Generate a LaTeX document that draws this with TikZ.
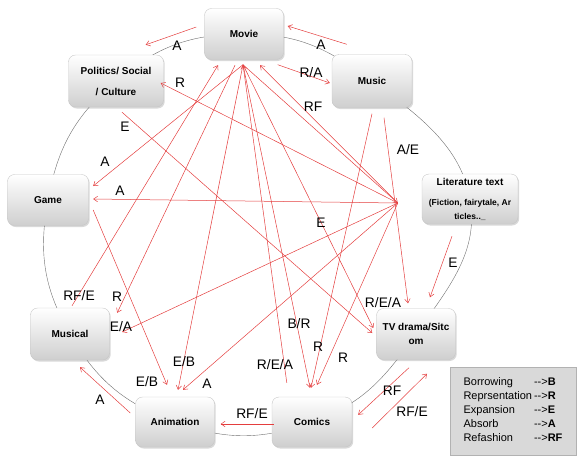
\documentclass[tikz,border=0pt]{standalone}
\usepackage{fontspec}
\setmainfont{Liberation Sans}
\usetikzlibrary{arrows.meta,positioning,calc,shadows,backgrounds}
\definecolor{linkred}{RGB}{228,62,62}
\definecolor{ringgray}{RGB}{110,110,110}
\definecolor{keygray}{RGB}{217,217,217}
\newcommand{\keyarrow}{-{}-{}>}

\begin{document}
\begin{tikzpicture}[x=1pt,y=-1pt,
    media/.style={draw=gray!45, rounded corners=7pt, top color=white, middle color=white!96!gray,
        bottom color=gray!38, minimum height=51pt, align=center,
        font=\fontsize{10}{14}\selectfont\bfseries,
        drop shadow={shadow xshift=1.2pt, shadow yshift=-1.5pt, opacity=0.3}},
    link/.style={linkred, line width=0.5pt, -{Straight Barb[length=4pt,width=5.5pt]}},
    tag/.style={font=\fontsize{13.8}{16}\selectfont, inner sep=0pt}]
    \useasboundingbox (0,0) rectangle (586,464);

    % media boxes round the ring
    \node[media, minimum width=79pt] (movie) at (244,34) {Movie};
    \node[media, minimum width=80pt, minimum height=53pt] (music) at (372,81) {Music};
    \node[media, minimum width=95pt, minimum height=52pt, font=\fontsize{10}{21}\selectfont\bfseries] (politics) at (116,81) {Politics/ Social\\/ Culture};
    \node[media, minimum width=81pt] (game) at (48,200) {Game};
    \node[media, minimum width=96pt, minimum height=50pt, font=\fontsize{8.5}{14}\selectfont\bfseries] (lit) at (470,199)
        {{\fontsize{10}{14}\selectfont Literature text}\\[6pt](Fiction, fairytale, Ar\\ticles..\_};
    \node[media, minimum width=79pt, minimum height=52pt] (musical) at (70,334) {Musical};
    \node[media, minimum width=79pt] (tv) at (416,334) {TV drama/Sitc\\om};
    \node[media, minimum width=79pt, minimum height=50pt] (anim) at (175,422) {Animation};
    \node[media, minimum width=80pt, minimum height=50pt] (comics) at (312,422) {Comics};

    % the ring behind the boxes
    \begin{scope}[on background layer]
        \draw[ringgray, line width=0.4pt] plot[smooth cycle, tension=0.75] coordinates
            {(movie.center) (music.center) (lit.center) (tv.center) (comics.center)
             (anim.center) (musical.center) (game.center) (politics.center)};
    \end{scope}

    \coordinate (hub) at ([shift={(-24,4)}]lit.west);
    \coordinate (mvhub) at ([shift={(-1,5)}]movie.south);

    % arrows along the ring
    \draw[link] ([shift={(-8,-7)}]movie.west) -- ([shift={(-18,-10)}]politics.north east);
    \draw[link] ([shift={(15,-10)}]music.north west) -- ([shift={(4,-8)}]movie.east);
    \draw[link] ([shift={(-6,5)}]movie.south east) -- ([shift={(-2,2)}]music.west);
    \draw[link] ([shift={(-18,12)}]lit.south) -- ([shift={(14,-11)}]tv.north);
    \draw[link] ([shift={(-7,8)}]tv.south) -- ([shift={(6,18)}]comics.north east);
    \draw[link] ([shift={(20,6)}]comics.east) -- ([shift={(11,14)}]tv.south);
    \draw[link] ([shift={(2,2)}]comics.west) -- ([shift={(6,2)}]anim.east);
    \draw[link] ([shift={(-5,-9)}]anim.west) -- ([shift={(10,7)}]musical.south);

    % arrows across the ring
    \draw[link] (mvhub) -- ([shift={(4.5,-14)}]game.east);
    \draw[link] (hub) -- ([shift={(4.5,-1)}]game.east);
    \draw[link] ([shift={(2,-2)}]musical.north) -- ([shift={(-26,5.5)}]movie.south);
    \draw[link] ([shift={(-9,5.5)}]movie.south) -- ([shift={(7.5,5)}]musical.north east);
    \draw[link] (hub) -- ([shift={(12.5,-2)}]musical.east);
    \draw[link] ([shift={(4.5,10)}]game.east) -- ([shift={(-8,-12)}]anim.north);
    \draw[link] (mvhub) -- ([shift={(3,-7)}]anim.north);
    \draw[link] (hub) -- ([shift={(8,-7)}]anim.north);
    \draw[link] ([shift={(15,-14)}]comics.north west) -- (mvhub);
    \draw[link] (mvhub) -- ([shift={(-2,-9)}]comics.north);
    \draw[link] ([shift={(0,6)}]music.south) -- ([shift={(-1,-9)}]comics.north);
    \draw[link] (hub) -- ([shift={(5,-12)}]comics.north);
    \draw[link] ([shift={(6,5)}]politics.south) -- ([shift={(-4,-1)}]tv.west);
    \draw[link] (mvhub) -- ([shift={(-3,-6)}]tv.west);
    \draw[link] ([shift={(12,10)}]music.south) -- ([shift={(-8,-5)}]tv.north);
    \draw[link] (hub) -- ([shift={(-3,2)}]politics.east);
    \draw[link] (hub) -- ([shift={(16,5.5)}]movie.south);
    \draw[link] (mvhub) -- (hub);

    % relation letters
    \node[tag] (tA1) at (177,46) {A};
    \node[tag] (tA2) at (321,45) {A};
    \node[tag] (tRA) at (311,73) {R/A};
    \node[tag] (tR1) at (180,83) {R};
    \node[tag] (tRF1) at (313,107) {RF};
    \node[tag] (tE1) at (125,127) {E};
    \node[tag] (tAE) at (408,150) {A/E};
    \node[tag] (tA3) at (105,162) {A};
    \node[tag] (tA4) at (120,191) {A};
    \node[tag] (tE2) at (321,223) {E};
    \node[tag] (tE3) at (453,263) {E};
    \node[tag] (tRFE1) at (79,296) {RF/E};
    \node[tag] (tR2) at (117,297) {R};
    \node[tag] (tREA1) at (383,303) {R/E/A};
    \node[tag] (tBR) at (299,324) {B/R};
    \node[tag] (tEA) at (121,327) {E/A};
    \node[tag] (tR3) at (318,347) {R};
    \node[tag] (tR4) at (343,358) {R};
    \node[tag] (tEB1) at (184,362) {E/B};
    \node[tag] (tREA2) at (275,365) {R/E/A};
    \node[tag] (tEB2) at (147,382) {E/B};
    \node[tag] (tA5) at (207,384) {A};
    \node[tag] (tRF2) at (392,391) {RF};
    \node[tag] (tA6) at (100,400) {A};
    \node[tag] (tRFE2) at (412,412) {RF/E};
    \node[tag] (tRFE3) at (252,414) {RF/E};

    % key
    \node[draw=gray!60, line width=1pt, fill=keygray, minimum width=126pt, minimum height=88pt,
        font=\fontsize{11}{14}\selectfont] (key) at (513,411)
        {\begin{tabular}{@{}l@{\hspace{2pt}}l@{}}
            Borrowing & \keyarrow\textbf{B}\\
            Reprsentation & \keyarrow\textbf{R}\\
            Expansion & \keyarrow\textbf{E}\\
            Absorb & \keyarrow\textbf{A}\\
            Refashion & \keyarrow\textbf{RF}
        \end{tabular}};
\end{tikzpicture}
\end{document}
